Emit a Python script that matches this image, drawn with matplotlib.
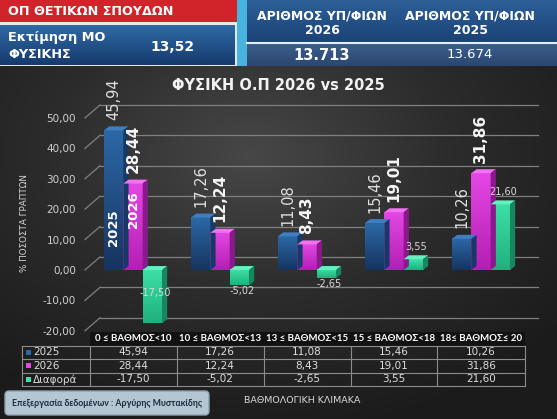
import numpy as np
import matplotlib
matplotlib.use('Agg')
import matplotlib.pyplot as plt
from matplotlib.patches import Rectangle, Polygon, FancyBboxPatch
from matplotlib.colors import LinearSegmentedColormap, to_rgb

# ---------------- data ----------------
categories = ["0 ≤ ΒΑΘΜΟΣ<10", "10 ≤ ΒΑΘΜΟΣ<13", "13 ≤ ΒΑΘΜΟΣ<15",
              "15 ≤ ΒΑΘΜΟΣ<18", "18≤ ΒΑΘΜΟΣ≤ 20"]
series_names = ["2025", "2026", "Διαφορά"]
values_2025 = [45.94, 17.26, 11.08, 15.46, 10.26]
values_2026 = [28.44, 12.24, 8.43, 19.01, 31.86]
values_diff = [-17.50, -5.02, -2.65, 3.55, 21.60]
yticks = [-20, -10, 0, 10, 20, 30, 40, 50]

title = "ΦΥΣΙΚΗ Ο.Π 2026 vs 2025"
ylabel = "% ΠΟΣΟΣΤΑ ΓΡΑΠΤΩΝ"
xlabel = "ΒΑΘΜΟΛΟΓΙΚΗ ΚΛΙΜΑΚΑ"
banner_text = "ΟΠ ΘΕΤΙΚΩΝ ΣΠΟΥΔΩΝ"
estimate_label = "Εκτίμηση ΜΟ\nΦΥΣΙΚΗΣ"
estimate_value = "13,52"
count_headers = ["ΑΡΙΘΜΟΣ ΥΠ/ΦΙΩΝ\n2026", "ΑΡΙΘΜΟΣ ΥΠ/ΦΙΩΝ\n2025"]
count_values = ["13.713", "13.674"]
credit = "Επεξεργασία δεδομένων : Αργύρης Μυστακίδης"

def fmt(v):
    return f"{v:.2f}".replace('.', ',')

W, H = 557, 419
fig = plt.figure(figsize=(W / 100, H / 100), dpi=100)
fig.patch.set_facecolor('#e6e9ec')

# ---------------- background (pixel coordinates) ----------------
bg = fig.add_axes([0, 0, 1, 1])
bg.set_xlim(0, W)
bg.set_ylim(H, 0)
bg.axis('off')

def grad_rect(ax, x0, y0, x1, y1, c_top, c_bot, z=1):
    ct, cb = np.array(to_rgb(c_top)), np.array(to_rgb(c_bot))
    t = np.linspace(0, 1, 64)[:, None]
    arr = (ct * (1 - t) + cb * t)[:, None, :]
    ax.imshow(arr, extent=(x0, x1, y1, y0), aspect='auto', zorder=z,
              interpolation='bilinear')

# dark panel with soft radial gradient
yy, xx = np.mgrid[0:1:200j, 0:1:300j]
d = np.sqrt(((xx - 0.45) / 0.8) ** 2 + ((yy - 0.25) / 0.9) ** 2)
cmap_bg = LinearSegmentedColormap.from_list('bgc', ['#474747', '#2c2c2c', '#1b1b1b'])
bg.imshow(d, cmap=cmap_bg, extent=(0, W, H, 67), aspect='auto', zorder=0,
          vmin=0, vmax=0.9, interpolation='bilinear')

# red banner
bg.add_patch(Rectangle((0, 0), 237, 22, facecolor='#d1232a', edgecolor='none', zorder=2))
bg.text(8, 11.5, banner_text, color='white', fontsize=9.2, fontweight='bold',
        va='center', ha='left', zorder=3)
# estimate box
grad_rect(bg, 0, 25, 235, 65, '#2f6aa6', '#163a6c', z=2)
bg.text(8, 46, estimate_label, color='white', fontsize=9.3, fontweight='bold',
        va='center', ha='left', linespacing=1.45, zorder=3)
bg.text(172, 47, estimate_value, color='white', fontsize=10, fontweight='bold',
        va='center', ha='center', zorder=3)
# cyan strip
bg.add_patch(Rectangle((237, 0), 10, 66, facecolor='#49b3df', edgecolor='none', zorder=2))
# right count box
grad_rect(bg, 247, 0, W, 43, '#2d5f98', '#1b4275', z=2)
grad_rect(bg, 247, 44, W, 66, '#3b5f8c', '#2a4770', z=2)
bg.plot([247, W], [43.5, 43.5], color='#e8eef5', lw=1.5, zorder=3)
for xc, hdr, val, wt in zip([322, 470], count_headers, count_values, ['bold', 'normal']):
    bg.text(xc, 23, hdr, color='white', fontsize=9, fontweight='bold',
            ha='center', va='center', linespacing=1.15, zorder=3)
    bg.text(xc, 55, val, color='white', fontsize=10.5 if wt == 'bold' else 9.5,
            fontweight=wt, ha='center', va='center', zorder=3)

# footer credit button
bg.add_patch(FancyBboxPatch((5, 391), 204, 24, boxstyle='round,pad=0,rounding_size=4',
                            facecolor='#b3c6d2', edgecolor='#8aa2b2', lw=1, zorder=2))
bg.text(107, 403, credit, color='#1b2a3a', fontsize=6.3, fontweight='bold', family='Lato',
        ha='center', va='center', zorder=3)
bg.text(302, 400, xlabel, color='#d8d8d8', fontsize=6.8, ha='center', va='center', zorder=3)
bg.text(25, 223, ylabel, color='#d8d8d8', fontsize=6.3, rotation=90,
        ha='center', va='center', zorder=3)
bg.text(278, 86, title, color='#f2f2f2', fontsize=10.5, fontweight='bold',
        ha='center', va='center', zorder=3)

# ---------------- main chart ----------------
px_x0, px_x1, px_top, px_bot = 80, 545, 100, 332
ax = fig.add_axes([px_x0 / W, (H - px_bot) / H, (px_x1 - px_x0) / W, (px_bot - px_top) / H])
ax.set_facecolor('none')
xlim = ((px_x0 - 133) / 87, (px_x1 - 133) / 87)
ylim = ((270 - px_bot) / 3.04, (270 - px_top) / 3.04)

# back-wall gridlines with perspective
back_dy = 4.3
for t in yticks:
    ax.plot([-0.379, 4.655], [t + back_dy, t + back_dy], color='#808080', lw=0.9, zorder=1)
    ax.plot([-0.552, -0.379], [t, t + back_dy], color='#808080', lw=0.9, zorder=1)

bw = 0.222
ddx, ddy = 0.06, 1.3
styles = [
    dict(top='#2c68a6', bot='#163460', cap='#3d7fc2', side='#163a65'),
    dict(top='#e447e4', bot='#b31fb3', cap='#f273f2', side='#8c198c'),
    dict(top='#3de0a6', bot='#20b07e', cap='#66f0c0', side='#188660'),
]
all_vals = [values_2025, values_2026, values_diff]
x = np.arange(len(categories))
for si, (vals, st) in enumerate(zip(all_vals, styles)):
    xs = x + (si - 1) * bw
    bars = ax.bar(xs, vals, width=bw, color=st['top'], zorder=3)
    for b, v in zip(bars, vals):
        x0, x1 = b.get_x(), b.get_x() + b.get_width()
        lo, hi = min(0, v), max(0, v)
        ct, cb = np.array(to_rgb(st['top'])), np.array(to_rgb(st['bot']))
        t = np.linspace(0, 1, 64)[:, None]
        arr = (cb * (1 - t) + ct * t)[:, None, :]
        ax.imshow(arr, extent=(x0, x1, lo, hi), origin='lower', aspect='auto',
                  zorder=3.1, interpolation='bilinear')
        ax.add_patch(Polygon([(x0, hi), (x1, hi), (x1 + ddx, hi + ddy), (x0 + ddx, hi + ddy)],
                             closed=True, facecolor=st['cap'], edgecolor='none', zorder=3.2))
        ax.add_patch(Polygon([(x1, lo), (x1, hi), (x1 + ddx, hi + ddy), (x1 + ddx, lo + ddy)],
                             closed=True, facecolor=st['side'], edgecolor='none', zorder=3.2))

# value labels
for xi, v in zip(x - bw, values_2025):
    ax.text(xi, v + 3.4, fmt(v), rotation=90, color='#e0e0e0', fontsize=10.5,
            ha='center', va='bottom', zorder=5)
for xi, v in zip(x, values_2026):
    ax.text(xi, v + 3.4, fmt(v), rotation=90, color='#f5f5f5', fontsize=11,
            fontweight='bold', ha='center', va='bottom', zorder=5)
for xi, v in zip(x + bw, values_diff):
    yv = v + 4 if v >= 0 else max(v - 1.8, -7.6)
    ax.text(xi + 0.03, yv, fmt(v), color='#d8d8d8', fontsize=7,
            ha='center', va='center', zorder=5)
# series names inside the first group
ax.text(x[0] - bw, 13.8, series_names[0], rotation=90, color='white', fontsize=9.5,
        fontweight='bold', ha='center', va='center', zorder=5)
ax.text(x[0], 19.7, series_names[1], rotation=90, color='white', fontsize=9.5,
        fontweight='bold', ha='center', va='center', zorder=5)

ax.set_xlim(*xlim)
ax.set_ylim(*ylim)
ax.set_yticks(yticks)
ax.set_yticklabels([fmt(t) for t in yticks], color='#d0d0d0', fontsize=7.5)
ax.tick_params(axis='y', length=0, pad=3)
ax.set_xticks([])
for s in ax.spines.values():
    s.set_visible(False)

# ---------------- data table ----------------
tb_top, tb_bot = 332, 386
tab = fig.add_axes([px_x0 / W, (H - tb_bot) / H, (px_x1 - px_x0) / W, (tb_bot - tb_top) / H])
tab.set_xlim(*xlim)
tab.set_ylim(4, 0)
tab.axis('off')
left_edge = (22 - 133) / 87
tab.add_patch(Rectangle((-0.5, 0), len(categories), 1, facecolor='#121212',
                        edgecolor='none', zorder=1))
for xi, c in zip(x, categories):
    tab.text(xi, 0.5, c, color='white', fontsize=6.9, fontweight='bold', family='Lato',
             ha='center', va='center', zorder=3)
gc = '#8c8c8c'
for r in range(1, 5):
    tab.plot([left_edge, len(categories) - 0.5], [r, r], color=gc, lw=0.8, clip_on=False, zorder=2)
for xv in [left_edge] + list(np.arange(len(categories) + 1) - 0.5):
    tab.plot([xv, xv], [1, 4], color=gc, lw=0.8, clip_on=False, zorder=2)
for r, (name, vals, st) in enumerate(zip(series_names, all_vals, styles), start=1):
    tab.add_patch(Rectangle((left_edge + 0.05, r + 0.3), 0.055, 0.4, facecolor=st['top'],
                            edgecolor='none', clip_on=False, zorder=3))
    tab.text(left_edge + 0.13, r + 0.5, name, color='#dddddd', fontsize=7.5,
             ha='left', va='center', clip_on=False, zorder=3)
    for xi, v in zip(x, vals):
        tab.text(xi, r + 0.5, fmt(v), color='#dddddd', fontsize=7.5,
                 ha='center', va='center', zorder=3)

fig.savefig('out.png', dpi=100, facecolor=fig.get_facecolor())
